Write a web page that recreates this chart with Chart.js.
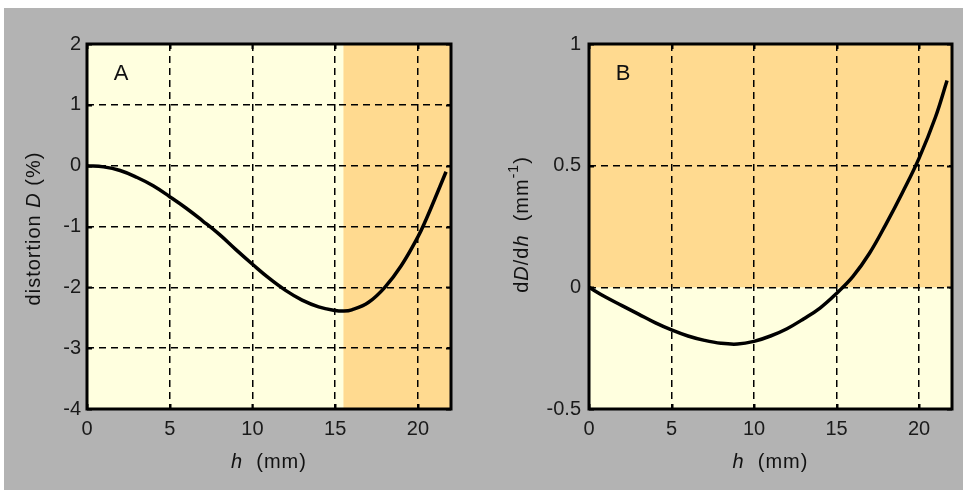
<!DOCTYPE html>
<html>
<head>
<meta charset="utf-8">
<script src="https://cdn.jsdelivr.net/npm/chart.js@4/dist/chart.umd.min.js"></script>
<style>
  html, body { margin: 0; padding: 0; background: #ffffff; width: 963px; height: 493px; overflow: hidden; }
  #bg { position: absolute; left: 4px; top: 8px; width: 959px; height: 482px; background: #b3b3b3; }
  canvas { position: absolute; top: 0; }
  #cA { left: 0; }
  #cB { left: 481px; }
</style>
</head>
<body>
<div id="bg"></div>
<canvas id="cA" width="481" height="493"></canvas>
<canvas id="cB" width="482" height="493"></canvas>
<script>
// ---- data ----
const hA    = [0, 1, 2, 3, 4, 5, 6, 7, 8, 9, 10, 11, 12, 13, 14, 15, 15.5, 16, 17, 18, 19, 20, 20.5, 21, 21.7];
const distA = [0, -0.02, -0.08, -0.19, -0.33, -0.51, -0.70, -0.91, -1.13, -1.38, -1.62, -1.85, -2.05, -2.21, -2.32, -2.38, -2.39, -2.37, -2.25, -2.0, -1.64, -1.17, -0.88, -0.56, -0.10];
const hB     = [0, 1, 2, 3, 4, 5, 6, 7, 8, 9, 10, 11, 12, 13, 14, 15, 16, 17, 18, 19, 20, 21, 21.7];
const slopeB = [0, -0.04, -0.075, -0.11, -0.145, -0.175, -0.2, -0.218, -0.23, -0.233, -0.222, -0.2, -0.17, -0.13, -0.085, -0.025, 0.045, 0.14, 0.26, 0.39, 0.53, 0.70, 0.85];
const xTicks  = [0, 5, 10, 15, 20];
const yTicksA = [-4, -3, -2, -1, 0, 1, 2];
const yTicksB = [-0.5, 0, 0.5, 1];
const xRange  = [0, 22];
const yRangeA = [-4, 2];
const yRangeB = [-0.5, 1];
const splitA  = 15.5;   // h where shading changes in panel A
const splitB  = 0;      // dD/dh where shading changes in panel B
const panelLetters = ['A', 'B'];

const CREAM = '#ffffdf';
const ORANGE = '#ffda90';
const FONT = '"Liberation Sans", Arial, sans-serif';
const FS = 20;

function drawRich(ctx, parts, cx, cy, rotate) {
  ctx.save();
  ctx.translate(cx, cy);
  if (rotate) ctx.rotate(-Math.PI / 2);
  ctx.textBaseline = 'middle';
  ctx.textAlign = 'left';
  try { ctx.letterSpacing = '1px'; } catch (e) {}
  let total = 0;
  const fonts = parts.map(p => (p.i ? 'italic ' : '') + (p.sup ? Math.round(FS * 0.68) : FS) + 'px ' + FONT);
  parts.forEach((p, k) => { ctx.font = fonts[k]; total += ctx.measureText(p.t).width; });
  let x = -total / 2;
  parts.forEach((p, k) => {
    ctx.font = fonts[k];
    ctx.fillStyle = '#111';
    ctx.fillText(p.t, x, p.sup ? -8 : 0);
    x += ctx.measureText(p.t).width;
  });
  ctx.restore();
}

function decoPlugin(cfg) {
  return {
    id: 'deco',
    beforeDraw(chart) {
      const { ctx, chartArea: a, scales: { x, y } } = chart;
      ctx.save();
      ctx.fillStyle = CREAM;
      ctx.fillRect(a.left, a.top, a.right - a.left, a.bottom - a.top);
      ctx.fillStyle = ORANGE;
      if (cfg.splitX !== undefined) {
        const px = x.getPixelForValue(cfg.splitX);
        ctx.fillRect(px, a.top, a.right - px, a.bottom - a.top);
      } else {
        const py = y.getPixelForValue(cfg.splitY);
        ctx.fillRect(a.left, a.top, a.right - a.left, py - a.top);
      }
      ctx.restore();
    },
    afterDraw(chart) {
      const { ctx, chartArea: a, scales: { x, y } } = chart;
      ctx.save();
      ctx.strokeStyle = '#000';
      ctx.lineWidth = 2;
      ctx.beginPath();
      xTicks.forEach(v => {
        const px = Math.round(x.getPixelForValue(v)) + 0.5;
        ctx.moveTo(px, a.bottom); ctx.lineTo(px, a.bottom - 5);
        ctx.moveTo(px, a.top); ctx.lineTo(px, a.top + 5);
      });
      cfg.yTicks.forEach(v => {
        const py = Math.round(y.getPixelForValue(v)) + 0.5;
        ctx.moveTo(a.left, py); ctx.lineTo(a.left + 5, py);
        ctx.moveTo(a.right, py); ctx.lineTo(a.right - 5, py);
      });
      ctx.stroke();
      ctx.lineWidth = 3;
      ctx.strokeRect(a.left, a.top, a.right - a.left, a.bottom - a.top);
      ctx.fillStyle = '#111';
      ctx.font = '22px ' + FONT;
      ctx.textAlign = 'center';
      ctx.textBaseline = 'middle';
      ctx.fillText(cfg.letter, a.left + 34, a.top + 30);
      ctx.restore();
      drawRich(ctx, [{ t: 'h', i: true }, { t: '  (mm)' }], (a.left + a.right) / 2, a.bottom + 53, false);
      drawRich(ctx, cfg.yTitle, a.left - cfg.yTitleOffset, (a.top + a.bottom) / 2 + cfg.yTitleShift, true);
    }
  };
}

function makeChart(id, hs, vals, yRange, yTicks, axisW, rightPad, tickPad, deco) {
  const fontSpec = { family: FONT, size: FS };
  return new Chart(document.getElementById(id), {
    type: 'line',
    data: {
      datasets: [{
        data: hs.map((h, k) => ({ x: h, y: vals[k] })),
        borderColor: '#000',
        borderWidth: 3.5,
        pointRadius: 0,
        tension: 0.4,
        fill: false
      }]
    },
    options: {
      responsive: false,
      animation: false,
      devicePixelRatio: 1,
      layout: { padding: { top: 44, right: rightPad, left: 0, bottom: 0 } },
      plugins: { legend: { display: false }, tooltip: { enabled: false } },
      scales: {
        x: {
          type: 'linear', min: xRange[0], max: xRange[1],
          afterBuildTicks: s => { s.ticks = xTicks.map(v => ({ value: v })); },
          afterFit: s => { s.height = 84; },
          grid: { color: '#000', lineWidth: 1.5, drawTicks: false },
          border: { display: false, dash: [7, 5] },
          ticks: { font: fontSpec, color: '#1a1a1a', padding: 8, maxRotation: 0, callback: v => String(v) }
        },
        y: {
          type: 'linear', min: yRange[0], max: yRange[1],
          afterBuildTicks: s => { s.ticks = yTicks.map(v => ({ value: v })); },
          afterFit: s => { s.width = axisW; },
          grid: { color: '#000', lineWidth: 1.5, drawTicks: false },
          border: { display: false, dash: [7, 5] },
          ticks: { font: fontSpec, color: '#1a1a1a', padding: tickPad, callback: v => String(v) }
        }
      }
    },
    plugins: [deco]
  });
}

makeChart('cA', hA, distA, yRangeA, yTicksA, 87, 30, 6,
  decoPlugin({ splitX: splitA, yTicks: yTicksA, letter: panelLetters[0],
    yTitle: [{ t: 'distortion ' }, { t: 'D', i: true }, { t: ' (%)' }], yTitleOffset: 53, yTitleShift: 2 }));

makeChart('cB', hB, slopeB, yRangeB, yTicksB, 108, 11, 8,
  decoPlugin({ splitY: splitB, yTicks: yTicksB, letter: panelLetters[1],
    yTitle: [{ t: 'd' }, { t: 'D', i: true }, { t: '/d' }, { t: 'h', i: true }, { t: '  (mm' }, { t: '-1', sup: true }, { t: ')' }],
    yTitleOffset: 67, yTitleShift: -2 }));
</script>
</body>
</html>
